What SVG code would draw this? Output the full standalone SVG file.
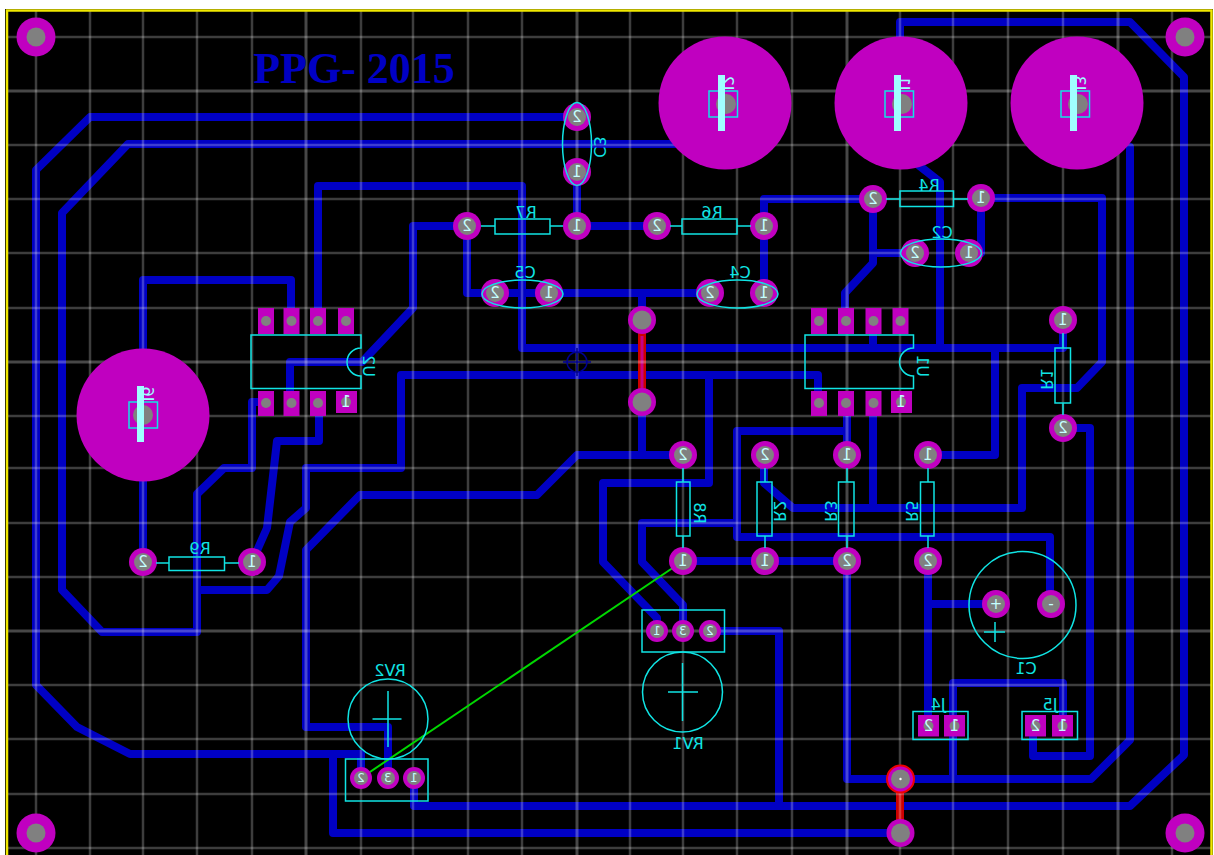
<svg xmlns="http://www.w3.org/2000/svg" width="1214" height="855" viewBox="0 0 1214 855">
<style>
.t{fill:none;stroke:#0000c4;stroke-width:8;stroke-linejoin:round;stroke-linecap:round}
.r{fill:none;stroke:#cc0000;stroke-width:8}
.g{stroke:#fff;stroke-opacity:.24;stroke-width:2.500}
.G{stroke:#fff;stroke-opacity:.28;stroke-width:3}
.pad{fill:#c000c0}
.big{fill:#c000c0}
.hole{fill:#808080}
.s{fill:none;stroke:#10e4e4;stroke-width:1.500}
.bar{fill:#a0ffff}
text{font-family:"DejaVu Sans","Liberation Sans",sans-serif;text-anchor:middle;dominant-baseline:central}
.l{fill:#10e4e4;font-size:16px}
.n{fill:#c4ffff;font-size:15px}
.m{fill:#c4ffff;font-size:12px}
.b{fill:#a0ffff;font-size:16px}
</style>
<rect x="0" y="0" width="1214" height="855" fill="#fff"/>
<rect x="5" y="9" width="1208" height="846" fill="#000"/>
<g id="connectors">
<polyline class="t" points="577,117 90,117 36,170 36,685 77,727 130,754 361,754 361,778"/>
<polyline class="t" points="700,144 128,144 62,213 62,590 102,632 197,632 197,494 224,468 252,468 252,402 265,402"/>
<polyline class="t" points="291,320 291,280 143,280 143,562"/>
<polyline class="t" points="318,320 318,186 522,186 522,348 1063,348 1063,320"/>
<polyline class="t" points="467,226 413,226 413,308 362,362 290,362 290,402"/>
<polyline class="t" points="467,226 467,293 710,293"/>
<polyline class="t" points="642,293 642,320"/>
<polyline class="t" points="577,171 577,226 657,226"/>
<polyline class="t" points="764,293 764,199 873,199 873,253 915,253"/>
<polyline class="t" points="873,253 873,263 845,293 845,320"/>
<polyline class="t" points="969,253 981,253 981,198 1102,198 1102,362 1077,388 1022,388 1022,508 793,508 764,483 764,455"/>
<polyline class="t" points="873,403 873,508"/>
<polyline class="t" points="873,320 873,348"/>
<polyline class="t" points="912,160 940,182 940,348"/>
<polyline class="t" points="995,348 995,455 928,455"/>
<polyline class="t" points="683,455 642,455 642,402"/>
<polyline class="t" points="642,455 577,455 537,495 360,495 306,550 306,727 388,727 388,778"/>
<polyline class="t" points="818,403 818,375 401,375 401,468 306,468 306,508 290,522 279,576 267,590 197,590"/>
<polyline class="t" points="709,375 709,483 603,483 603,562 657,618 657,630"/>
<polyline class="t" points="252,562 267,528 277,441 319,441 319,403"/>
<polyline class="t" points="847,431 737,431 737,537 1050,537 1050,604"/>
<polyline class="t" points="847,403 847,455"/>
<polyline class="t" points="737,523 642,523 642,562 683,605 683,630"/>
<polyline class="t" points="683,561 847,561 847,779 1091,779 1130,740 1130,147"/>
<polyline class="t" points="1063,428 1090,428 1090,756 1033,756 1033,726"/>
<polyline class="t" points="928,561 928,726"/>
<polyline class="t" points="928,604 996,604"/>
<polyline class="t" points="953,779 953,683 1063,683 1063,726"/>
<polyline class="t" points="900,103 900,22 1130,22 1184,77 1184,755 1130,806 414,806 414,778"/>
<polyline class="t" points="779,806 779,631 710,631"/>
<polyline class="t" points="900,833 333,833 333,754"/>
<line class="r" x1="642" y1="320" x2="642" y2="402"/>
<line x1="642" y1="336" x2="642" y2="388" stroke="#c000c0" stroke-width="3" stroke-opacity=".7"/>
<line class="r" x1="900" y1="779" x2="900" y2="833"/>
</g>
<g id="grid">
<path class="g" d="M36 11V855M90 11V855M143 11V855M197 11V855M252 11V855M361 11V855M413 11V855M468 11V855M522 11V855M630 11V855M683 11V855M737 11V855M792 11V855M900 11V855M953 11V855M1008 11V855M1063 11V855M1172 11V855"/>
<path class="G" d="M306 11V855M577 11V855M847 11V855M1118 11V855"/>
<path class="g" d="M7 37H1211M7 145H1211M7 199H1211M7 253H1211M7 308H1211M7 416H1211M7 468H1211M7 523H1211M7 577H1211M7 685H1211M7 739H1211M7 794H1211M7 848H1211"/>
<path class="G" d="M7 91H1211M7 362H1211M7 631H1211"/>
</g>
<path id="border" d="M7 855V10.500H1211.500V855" fill="none" stroke="#f0e800" stroke-width="2.500"/>
<text id="title" x="354" y="68" fill="#0000c4" style="font-family:'Liberation Serif',serif;font-weight:bold;font-size:44px">PPG- 2015</text>
<g id="origin" fill="none" stroke="#000090" stroke-width="1.500"><circle cx="577" cy="362" r="10"/><path d="M563 362H591M577 348V376"/></g>
<line id="ratsnest" x1="361" y1="778" x2="683" y2="561" stroke="#00d800" stroke-width="2"/>
<g id="M1"><circle class="pad" cx="36" cy="37" r="19.500"/><circle class="hole" cx="36" cy="37" r="9.500"/></g>
<g id="M2"><circle class="pad" cx="1185" cy="37" r="19.500"/><circle class="hole" cx="1185" cy="37" r="9.500"/></g>
<g id="M3"><circle class="pad" cx="36" cy="833" r="19.500"/><circle class="hole" cx="36" cy="833" r="9.500"/></g>
<g id="M4"><circle class="pad" cx="1185" cy="833" r="19.500"/><circle class="hole" cx="1185" cy="833" r="9.500"/></g>
<g id="J2"><circle class="big" cx="725" cy="103" r="66.500"/><circle class="hole" cx="726" cy="104" r="10"/><rect class="s" x="709" y="91" width="28.500" height="26"/><rect class="bar" x="718" y="75" width="7" height="56"/><text class="b" transform="translate(727,83) rotate(-90) scale(1,-1)">J2</text></g>
<g id="J1"><circle class="big" cx="901" cy="103" r="66.500"/><circle class="hole" cx="902" cy="104" r="10"/><rect class="s" x="885" y="91" width="28.500" height="26"/><rect class="bar" x="894" y="75" width="7" height="56"/><text class="b" transform="translate(903,83) rotate(-90) scale(1,-1)">J1</text></g>
<g id="J3"><circle class="big" cx="1077" cy="103" r="66.500"/><circle class="hole" cx="1078" cy="104" r="10"/><rect class="s" x="1061" y="91" width="28.500" height="26"/><rect class="bar" x="1070" y="75" width="7" height="56"/><text class="b" transform="translate(1079,83) rotate(-90) scale(1,-1)">J3</text></g>
<g id="J6"><circle class="big" cx="143" cy="415" r="66.500"/><circle class="hole" cx="143" cy="415" r="10"/><rect class="s" x="129" y="402" width="28.500" height="26"/><rect class="bar" x="137" y="386" width="7" height="56"/><text class="b" transform="translate(147,394) rotate(-90) scale(1,-1)">J6</text></g>
<g id="C3"><circle class="pad" cx="577" cy="117" r="14"/><circle class="hole" cx="577" cy="117" r="9"/><circle class="pad" cx="577" cy="172" r="14"/><circle class="hole" cx="577" cy="172" r="9"/><ellipse class="s" cx="577" cy="144" rx="14.500" ry="41.500"/><text class="n" transform="translate(577,117) scale(-1,1)">2</text><text class="n" transform="translate(577,172) scale(-1,1)">1</text><text class="l" transform="translate(599,147) rotate(-90) scale(1,-1)">C3</text></g>
<g id="R7"><circle class="pad" cx="467" cy="226" r="14"/><circle class="hole" cx="467" cy="226" r="9"/><circle class="pad" cx="577" cy="226" r="14"/><circle class="hole" cx="577" cy="226" r="9"/><rect class="s" x="495" y="219" width="55" height="15"/><path class="s" d="M481 226H495M550 226H563"/><text class="n" transform="translate(467,226) scale(-1,1)">2</text><text class="n" transform="translate(577,226) scale(-1,1)">1</text><text class="l" transform="translate(526,212) scale(-1,1)">R7</text></g>
<g id="C5"><circle class="pad" cx="495" cy="293" r="14"/><circle class="hole" cx="495" cy="293" r="9"/><circle class="pad" cx="549" cy="293" r="14"/><circle class="hole" cx="549" cy="293" r="9"/><ellipse class="s" cx="522.500" cy="294" rx="40.500" ry="14"/><text class="n" transform="translate(495,293) scale(-1,1)">2</text><text class="n" transform="translate(549,293) scale(-1,1)">1</text><text class="l" transform="translate(525,272) scale(-1,1)">C5</text></g>
<g id="R6"><circle class="pad" cx="657" cy="226" r="14"/><circle class="hole" cx="657" cy="226" r="9"/><circle class="pad" cx="764" cy="226" r="14"/><circle class="hole" cx="764" cy="226" r="9"/><rect class="s" x="682" y="219" width="55" height="15"/><path class="s" d="M670 226H682M737 226H751"/><text class="n" transform="translate(657,226) scale(-1,1)">2</text><text class="n" transform="translate(764,226) scale(-1,1)">1</text><text class="l" transform="translate(712,212) scale(-1,1)">R6</text></g>
<g id="C4"><circle class="pad" cx="710" cy="293" r="14"/><circle class="hole" cx="710" cy="293" r="9"/><circle class="pad" cx="764" cy="293" r="14"/><circle class="hole" cx="764" cy="293" r="9"/><ellipse class="s" cx="737.500" cy="294" rx="40.500" ry="14"/><text class="n" transform="translate(710,293) scale(-1,1)">2</text><text class="n" transform="translate(764,293) scale(-1,1)">1</text><text class="l" transform="translate(740,272) scale(-1,1)">C4</text></g>
<g id="R4"><circle class="pad" cx="873" cy="199" r="14"/><circle class="hole" cx="873" cy="199" r="9"/><circle class="pad" cx="981" cy="198" r="14"/><circle class="hole" cx="981" cy="198" r="9"/><rect class="s" x="900" y="191" width="53.500" height="15.500"/><path class="s" d="M886 199H900M953 199H968"/><text class="n" transform="translate(873,199) scale(-1,1)">2</text><text class="n" transform="translate(981,198) scale(-1,1)">1</text><text class="l" transform="translate(929,185) scale(-1,1)">R4</text></g>
<g id="C2"><circle class="pad" cx="915" cy="253" r="14"/><circle class="hole" cx="915" cy="253" r="9"/><circle class="pad" cx="969" cy="253" r="14"/><circle class="hole" cx="969" cy="253" r="9"/><ellipse class="s" cx="941" cy="253" rx="40.500" ry="14"/><text class="n" transform="translate(915,253) scale(-1,1)">2</text><text class="n" transform="translate(969,253) scale(-1,1)">1</text><text class="l" transform="translate(942,232) scale(-1,1)">C2</text></g>
<g id="U2">
<rect class="pad" x="258" y="308" width="16" height="26"/><rect class="pad" x="283.500" y="308" width="16" height="26"/><rect class="pad" x="310" y="308" width="16" height="26"/><rect class="pad" x="338" y="308" width="16" height="26"/>
<rect class="pad" x="258" y="391" width="16" height="25"/><rect class="pad" x="283.500" y="391" width="16" height="25"/><rect class="pad" x="310" y="391" width="16" height="25"/><rect class="pad" x="336" y="391" width="21" height="22"/>
<circle class="hole" cx="266" cy="321" r="5"/><circle class="hole" cx="291.500" cy="321" r="5"/><circle class="hole" cx="318" cy="321" r="5"/><circle class="hole" cx="346" cy="321" r="5"/>
<circle class="hole" cx="266" cy="403" r="5"/><circle class="hole" cx="291.500" cy="403" r="5"/><circle class="hole" cx="318" cy="403" r="5"/><circle class="hole" cx="346" cy="402" r="5"/>
<path class="s" d="M361 335V348A14 14 0 0 0 361 376V388.500H251V335Z"/>
<text class="n" transform="translate(346,402) scale(-1,1)">1</text><text class="l" transform="translate(368,366) rotate(-90) scale(1,-1)">U2</text></g>
<g id="U1">
<rect class="pad" x="811" y="308" width="16" height="26"/><rect class="pad" x="838" y="308" width="16" height="26"/><rect class="pad" x="865.500" y="308" width="16" height="26"/><rect class="pad" x="892.500" y="308" width="16" height="26"/>
<rect class="pad" x="811" y="391" width="16" height="25"/><rect class="pad" x="838" y="391" width="16" height="25"/><rect class="pad" x="865.500" y="391" width="16" height="25"/><rect class="pad" x="891" y="391" width="21" height="22"/>
<circle class="hole" cx="819" cy="321" r="5"/><circle class="hole" cx="846" cy="321" r="5"/><circle class="hole" cx="873.500" cy="321" r="5"/><circle class="hole" cx="900.500" cy="321" r="5"/>
<circle class="hole" cx="819" cy="403" r="5"/><circle class="hole" cx="846" cy="403" r="5"/><circle class="hole" cx="873.500" cy="403" r="5"/><circle class="hole" cx="901" cy="402" r="5"/>
<path class="s" d="M913.500 335V348A14 14 0 0 0 913.500 376V388.500H805V335Z"/>
<text class="n" transform="translate(901,402) scale(-1,1)">1</text><text class="l" transform="translate(922,366) rotate(-90) scale(1,-1)">U1</text></g>
<g id="V1"><circle class="pad" cx="642" cy="320" r="14"/><circle class="hole" cx="642" cy="320" r="9.500"/><circle class="pad" cx="642" cy="402" r="14"/><circle class="hole" cx="642" cy="402" r="9.500"/></g>
<g id="V2"><circle class="pad" cx="900.500" cy="779" r="13.500" stroke="#f00000" stroke-width="2"/><circle class="hole" cx="900.500" cy="779" r="9.500"/><circle cx="900.500" cy="779" r="1.200" fill="#fff"/><circle class="pad" cx="900.500" cy="833" r="14"/><circle class="hole" cx="900.500" cy="833" r="9.500"/></g>
<g id="R9"><circle class="pad" cx="143" cy="562" r="14"/><circle class="hole" cx="143" cy="562" r="9"/><circle class="pad" cx="252" cy="562" r="14"/><circle class="hole" cx="252" cy="562" r="9"/><rect class="s" x="169" y="557" width="55.500" height="13.500"/><path class="s" d="M156 563H169M224 563H239"/><text class="n" transform="translate(143,562) scale(-1,1)">2</text><text class="n" transform="translate(252,562) scale(-1,1)">1</text><text class="l" transform="translate(200,548) scale(-1,1)">R9</text></g>
<g id="R8"><circle class="pad" cx="683" cy="455" r="14"/><circle class="hole" cx="683" cy="455" r="9"/><circle class="pad" cx="683" cy="561" r="14"/><circle class="hole" cx="683" cy="561" r="9"/><rect class="s" x="676.500" y="482" width="13.500" height="54"/><path class="s" d="M683 468V482M683 536V548"/><text class="n" transform="translate(683,455) scale(-1,1)">2</text><text class="n" transform="translate(683,561) scale(-1,1)">1</text><text class="l" transform="translate(699,513) rotate(-90) scale(1,-1)">R8</text></g>
<g id="R2"><circle class="pad" cx="765" cy="455" r="14"/><circle class="hole" cx="765" cy="455" r="9"/><circle class="pad" cx="765" cy="561" r="14"/><circle class="hole" cx="765" cy="561" r="9"/><rect class="s" x="757" y="482" width="15" height="54"/><path class="s" d="M765 468V482M765 536V548"/><text class="n" transform="translate(765,455) scale(-1,1)">2</text><text class="n" transform="translate(765,561) scale(-1,1)">1</text><text class="l" transform="translate(779,511) rotate(-90) scale(1,-1)">R2</text></g>
<g id="R3"><circle class="pad" cx="847" cy="455" r="14"/><circle class="hole" cx="847" cy="455" r="9"/><circle class="pad" cx="847" cy="561" r="14"/><circle class="hole" cx="847" cy="561" r="9"/><rect class="s" x="838.500" y="482" width="15.500" height="54"/><path class="s" d="M847 468V482M847 536V548"/><text class="n" transform="translate(847,455) scale(-1,1)">1</text><text class="n" transform="translate(847,561) scale(-1,1)">2</text><text class="l" transform="translate(830,511) rotate(-90) scale(1,-1)">R3</text></g>
<g id="R5"><circle class="pad" cx="928" cy="455" r="14"/><circle class="hole" cx="928" cy="455" r="9"/><circle class="pad" cx="928" cy="561" r="14"/><circle class="hole" cx="928" cy="561" r="9"/><rect class="s" x="920.500" y="482" width="13.500" height="54"/><path class="s" d="M928 468V482M928 536V548"/><text class="n" transform="translate(928,455) scale(-1,1)">1</text><text class="n" transform="translate(928,561) scale(-1,1)">2</text><text class="l" transform="translate(911,511) rotate(-90) scale(1,-1)">R5</text></g>
<g id="R1"><circle class="pad" cx="1063" cy="320" r="14"/><circle class="hole" cx="1063" cy="320" r="9"/><circle class="pad" cx="1063" cy="428" r="14"/><circle class="hole" cx="1063" cy="428" r="9"/><rect class="s" x="1055" y="348" width="15.500" height="55"/><path class="s" d="M1063 333V348M1063 403V415"/><text class="n" transform="translate(1063,320) scale(-1,1)">1</text><text class="n" transform="translate(1063,428) scale(-1,1)">2</text><text class="l" transform="translate(1046,379) rotate(-90) scale(1,-1)">R1</text></g>
<g id="C1"><circle class="s" cx="1022.500" cy="605" r="53.500"/><circle class="pad" cx="996" cy="604" r="14"/><circle class="hole" cx="996" cy="604" r="9"/><circle class="pad" cx="1051" cy="604" r="14"/><circle class="hole" cx="1051" cy="604" r="9"/><path class="s" d="M984 632H1005M995 622V642"/><text class="n" transform="translate(996,604) scale(-1,1)">+</text><text class="n" transform="translate(1051,604) scale(-1,1)">-</text><text class="l" transform="translate(1026,668) scale(-1,1)">C1</text></g>
<g id="J4"><rect class="pad" x="918" y="715" width="21" height="21.500"/><rect class="pad" x="944" y="715" width="21" height="21.500"/><circle class="hole" cx="928.500" cy="726" r="5"/><circle class="hole" cx="954.500" cy="726" r="5"/><rect class="s" x="913" y="711.500" width="55" height="28"/><text class="n" transform="translate(928.500,726) scale(-1,1)">2</text><text class="n" transform="translate(954.500,726) scale(-1,1)">1</text><text class="l" transform="translate(938,704) scale(-1,1)">J4</text></g>
<g id="J5"><rect class="pad" x="1025" y="715" width="21" height="21.500"/><rect class="pad" x="1052" y="715" width="21" height="21.500"/><circle class="hole" cx="1035.500" cy="726" r="5"/><circle class="hole" cx="1062.500" cy="726" r="5"/><rect class="s" x="1022" y="711.500" width="55.500" height="28"/><text class="n" transform="translate(1035.500,726) scale(-1,1)">2</text><text class="n" transform="translate(1062.500,726) scale(-1,1)">1</text><text class="l" transform="translate(1050,704) scale(-1,1)">J5</text></g>
<g id="RV1"><circle class="pad" cx="657" cy="631" r="11"/><circle class="hole" cx="657" cy="631" r="7"/><circle class="pad" cx="683" cy="631" r="11"/><circle class="hole" cx="683" cy="631" r="7"/><circle class="pad" cx="710" cy="631" r="11"/><circle class="hole" cx="710" cy="631" r="7"/><rect class="s" x="642" y="610" width="82.500" height="42"/><circle class="s" cx="682.500" cy="692" r="40"/><path class="s" d="M668 692H698M682.500 663V721"/><text class="m" transform="translate(657,631) scale(-1,1)">1</text><text class="m" transform="translate(683,631) scale(-1,1)">3</text><text class="m" transform="translate(710,631) scale(-1,1)">2</text><text class="l" transform="translate(688,743) scale(-1,1)">RV1</text></g>
<g id="RV2"><circle class="pad" cx="361" cy="778" r="11"/><circle class="hole" cx="361" cy="778" r="7"/><circle class="pad" cx="388" cy="778" r="11"/><circle class="hole" cx="388" cy="778" r="7"/><circle class="pad" cx="414" cy="778" r="11"/><circle class="hole" cx="414" cy="778" r="7"/><rect class="s" x="345.500" y="759" width="82.500" height="42"/><circle class="s" cx="388" cy="719" r="40"/><path class="s" d="M372.500 719H401.500M388 691V747"/><text class="m" transform="translate(361,778) scale(-1,1)">2</text><text class="m" transform="translate(388,778) scale(-1,1)">3</text><text class="m" transform="translate(414,778) scale(-1,1)">1</text><text class="l" transform="translate(390,670) scale(-1,1)">RV2</text></g>
</svg>
